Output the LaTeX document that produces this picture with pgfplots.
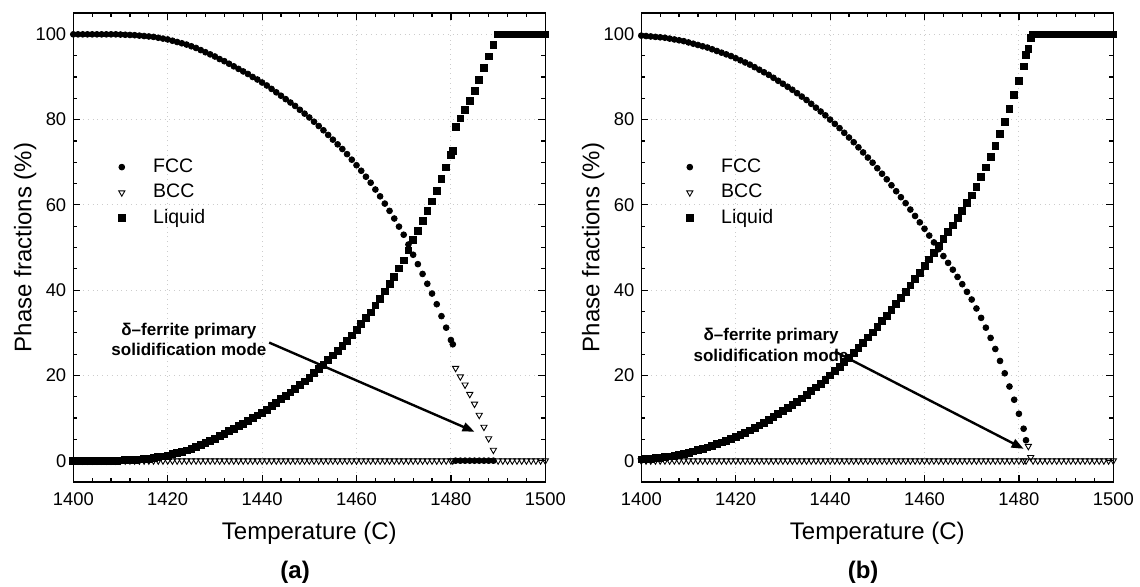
\documentclass[border=0pt]{standalone}
\usepackage{fontspec}
\setmainfont{Liberation Sans}
\usepackage{pgfplots}
\usepackage{pgfplotstable}
\pgfplotsset{compat=1.18}
\usetikzlibrary{arrows.meta}

% columns: temperature, FCC, BCC, liquid (nan = not plotted)
\pgfplotstableread{
T fcc bcc liq
1400 100 0 0
1401 100 0 0
1402 100 0 0
1403 100 0 0
1404 100 0 0
1405 100 0 0
1406 100 0 0
1407 100 0 0
1408 100 0 0
1409 100 0 0
1410 99.95 0 0.05
1411 99.9 0 0.1
1412 99.85 0 0.15
1413 99.8 0 0.2
1414 99.7 0 0.3
1415 99.6 0 0.4
1416 99.5 0 0.5
1417 99.4 0 0.6
1418 99.2 0 0.8
1419 99.0 0 1.0
1420 98.8 0 1.2
1421 98.5 0 1.5
1422 98.2 0 1.8
1423 97.9 0 2.1
1424 97.6 0 2.4
1425 97.2 0 2.8
1426 96.8 0 3.2
1427 96.3 0 3.7
1428 95.8 0 4.2
1429 95.3 0 4.7
1430 94.8 0 5.2
1431 94.2 0 5.8
1432 93.7 0 6.3
1433 93.1 0 6.9
1434 92.5 0 7.5
1435 91.9 0 8.1
1436 91.3 0 8.7
1437 90.7 0 9.3
1438 90.0 0 10.0
1439 89.4 0 10.6
1440 88.7 0 11.3
1441 88.0 0 12.0
1442 87.2 0 12.8
1443 86.4 0 13.6
1444 85.6 0 14.4
1445 84.8 0 15.2
1446 84.0 0 16.0
1447 83.2 0 16.8
1448 82.3 0 17.7
1449 81.4 0 18.6
1450 80.5 0 19.5
1451 79.5 0 20.5
1452 78.5 0 21.5
1453 77.5 0 22.5
1454 76.4 0 23.6
1455 75.3 0 24.7
1456 74.2 0 25.8
1457 73.1 0 26.9
1458 71.9 0 28.1
1459 70.6 0 29.4
1460 69.3 0 30.7
1461 68.0 0 32.0
1462 66.6 0 33.4
1463 65.2 0 34.8
1464 63.6 0 36.4
1465 62.0 0 38.0
1466 60.3 0 39.7
1467 58.6 0 41.4
1468 56.8 0 43.2
1469 54.9 0 45.1
1470 53.0 0 47.0
1471 50.7 0 49.3
1472 48.3 0 51.7
1473 46.1 0 53.9
1474 43.8 0 56.2
1475 41.5 0 58.5
1476 39.2 0 60.8
1477 36.7 0 63.3
1478 33.9 0 66.1
1479 31.2 0 68.8
1480 28.3 0 71.7
1480.4 27.3 0 72.7
1481 0 21.7 78.3
1482 0 19.7 80.3
1483 0 17.8 82.2
1484 0 15.6 84.4
1485 0 13.3 86.7
1486 0 10.7 89.3
1487 0 7.9 92.1
1488 0 5.2 94.8
1489 0 2.5 97.5
1490 nan 0 100
1491 nan 0 100
1492 nan 0 100
1493 nan 0 100
1494 nan 0 100
1495 nan 0 100
1496 nan 0 100
1497 nan 0 100
1498 nan 0 100
1499 nan 0 100
1500 nan 0 100
}\phaseA

\pgfplotstableread{
T fcc bcc liq
1400 99.7 0 0.3
1401 99.6 0 0.4
1402 99.5 0 0.5
1403 99.4 0 0.6
1404 99.3 0 0.7
1405 99.2 0 0.8
1406 99.0 0 1.0
1407 98.8 0 1.2
1408 98.6 0 1.4
1409 98.4 0 1.6
1410 98.1 0 1.9
1411 97.8 0 2.2
1412 97.5 0 2.5
1413 97.2 0 2.8
1414 96.9 0 3.1
1415 96.5 0 3.5
1416 96.1 0 3.9
1417 95.7 0 4.3
1418 95.3 0 4.7
1419 94.9 0 5.1
1420 94.4 0 5.6
1421 93.9 0 6.1
1422 93.4 0 6.6
1423 92.9 0 7.1
1424 92.3 0 7.7
1425 91.7 0 8.3
1426 91.1 0 8.9
1427 90.5 0 9.5
1428 89.8 0 10.2
1429 89.1 0 10.9
1430 88.4 0 11.6
1431 87.7 0 12.3
1432 87.0 0 13.0
1433 86.2 0 13.8
1434 85.4 0 14.6
1435 84.6 0 15.4
1436 83.7 0 16.3
1437 82.8 0 17.2
1438 81.9 0 18.1
1439 81.0 0 19.0
1440 80.0 0 20.0
1441 79.0 0 21.0
1442 78.0 0 22.0
1443 76.9 0 23.1
1444 75.8 0 24.2
1445 74.7 0 25.3
1446 73.5 0 26.5
1447 72.3 0 27.7
1448 71.1 0 28.9
1449 69.9 0 30.1
1450 68.6 0 31.4
1451 67.3 0 32.7
1452 66.0 0 34.0
1453 64.6 0 35.4
1454 63.2 0 36.8
1455 61.8 0 38.2
1456 60.4 0 39.6
1457 58.9 0 41.1
1458 57.4 0 42.6
1459 55.9 0 44.1
1460 54.4 0 45.6
1461 52.8 0 47.2
1462 51.2 0 48.8
1463 49.6 0 50.4
1464 48.0 0 52.0
1465 46.4 0 53.6
1466 44.8 0 55.2
1467 43.1 0 56.9
1468 41.4 0 58.6
1469 39.6 0 60.4
1470 37.8 0 62.2
1471 35.7 0 64.3
1472 33.5 0 66.5
1473 31.2 0 68.8
1474 28.8 0 71.2
1475 26.2 0 73.8
1476 23.4 0 76.6
1477 20.5 0 79.5
1478 17.4 0 82.6
1479 14.3 0 85.7
1480 11.0 0 89.0
1481 7.5 0 92.5
1481.5 4.8 0 95.2
1482 nan 3.4 96.6
1482.5 nan 0.8 99.2
1483 nan 0 100
1484 nan 0 100
1485 nan 0 100
1486 nan 0 100
1487 nan 0 100
1488 nan 0 100
1489 nan 0 100
1490 nan 0 100
1491 nan 0 100
1492 nan 0 100
1493 nan 0 100
1494 nan 0 100
1495 nan 0 100
1496 nan 0 100
1497 nan 0 100
1498 nan 0 100
1499 nan 0 100
1500 nan 0 100
}\phaseB

\pgfplotsset{
  phasepanel/.style={
    scale only axis, width=236pt, height=234.5pt,
    xmin=1400, xmax=1500, ymin=-5, ymax=105,
    xtick={1400,1420,...,1500}, ytick={0,20,...,100},
    minor x tick num=4, minor y tick num=3,
    tick align=inside, major tick length=3.5pt, minor tick length=2pt,
    every tick/.style={black, line width=0.6pt},
    axis line style={line width=0.75pt},
    grid=major, major grid style={gray!40, dotted, line width=0.5pt},
    clip=false,
    /pgf/number format/assume math mode=true,
    /pgf/number format/set thousands separator={},
    tick label style={font=\fontsize{9.2}{11}\selectfont},
    xticklabel style={yshift=-2pt},
    xlabel={Temperature (C)}, ylabel={Phase fractions (\%)},
    label style={font=\fontsize{12}{14}\selectfont},
    xlabel style={at={(axis description cs:0.5,-0.1085)}, anchor=center},
    ylabel style={at={(axis description cs:-0.102,0.5)}, anchor=center},
    legend style={anchor=north west, draw=none, fill=none,
      font=\fontsize{9.75}{11}\selectfont,
      nodes={inner sep=0pt, text height=7pt, text depth=2pt}, row sep=3.75pt,
      /tikz/every odd column/.append style={column sep=14pt}},
    legend cell align=left,
    legend image code/.code={\draw[only marks,##1] plot coordinates {(0pt,0pt)};},
  },
  fcc/.style={only marks, mark=*, mark size=1.45pt, black},
  bcc/.style={only marks, mark=triangle, mark size=1.8pt, black, mark options={rotate=180, fill=white, line width=0.45pt}},
  liq/.style={only marks, mark=square*, mark size=1.7pt, black},
}

\begin{document}
\begin{tikzpicture}
\useasboundingbox (-36.65pt,-52pt) rectangle (533.35pt,241pt);

\begin{axis}[phasepanel, at={(0pt,0pt)}, anchor=south west,
  legend style={at={(axis cs:1408.2,72.0)}}]
\addplot[fcc] table[x=T, y=fcc] {\phaseA};
\addplot[bcc] table[x=T, y=bcc] {\phaseA};
\addplot[liq] table[x=T, y=liq] {\phaseA};
\legend{FCC, BCC, Liquid}
\node[font=\bfseries\fontsize{8.5}{10.3}\selectfont, align=center] at (axis cs:1424.5,28.4) {δ–ferrite primary\\solidification mode};
\draw[-{Triangle[length=6pt,width=4.5pt]}, line width=1.2pt] (axis cs:1441.5,27.7) -- (axis cs:1485,6.8);
\node[font=\bfseries\fontsize{12}{14}\selectfont] at (axis description cs:0.47,-0.192) {(a)};
\end{axis}

\begin{axis}[phasepanel, at={(284pt,0pt)}, anchor=south west,
  legend style={at={(axis cs:1408.2,72.0)}}]
\addplot[fcc] table[x=T, y=fcc] {\phaseB};
\addplot[bcc] table[x=T, y=bcc] {\phaseB};
\addplot[liq] table[x=T, y=liq] {\phaseB};
\legend{FCC, BCC, Liquid}
\node[font=\bfseries\fontsize{8.5}{10.3}\selectfont, align=center] at (axis cs:1427.5,27.2) {δ–ferrite primary\\solidification mode};
\draw[-{Triangle[length=6pt,width=4.5pt]}, line width=1.2pt] (axis cs:1441,25.6) -- (axis cs:1481,2.8);
\node[font=\bfseries\fontsize{12}{14}\selectfont] at (axis description cs:0.47,-0.192) {(b)};
\end{axis}
\end{tikzpicture}
\end{document}
